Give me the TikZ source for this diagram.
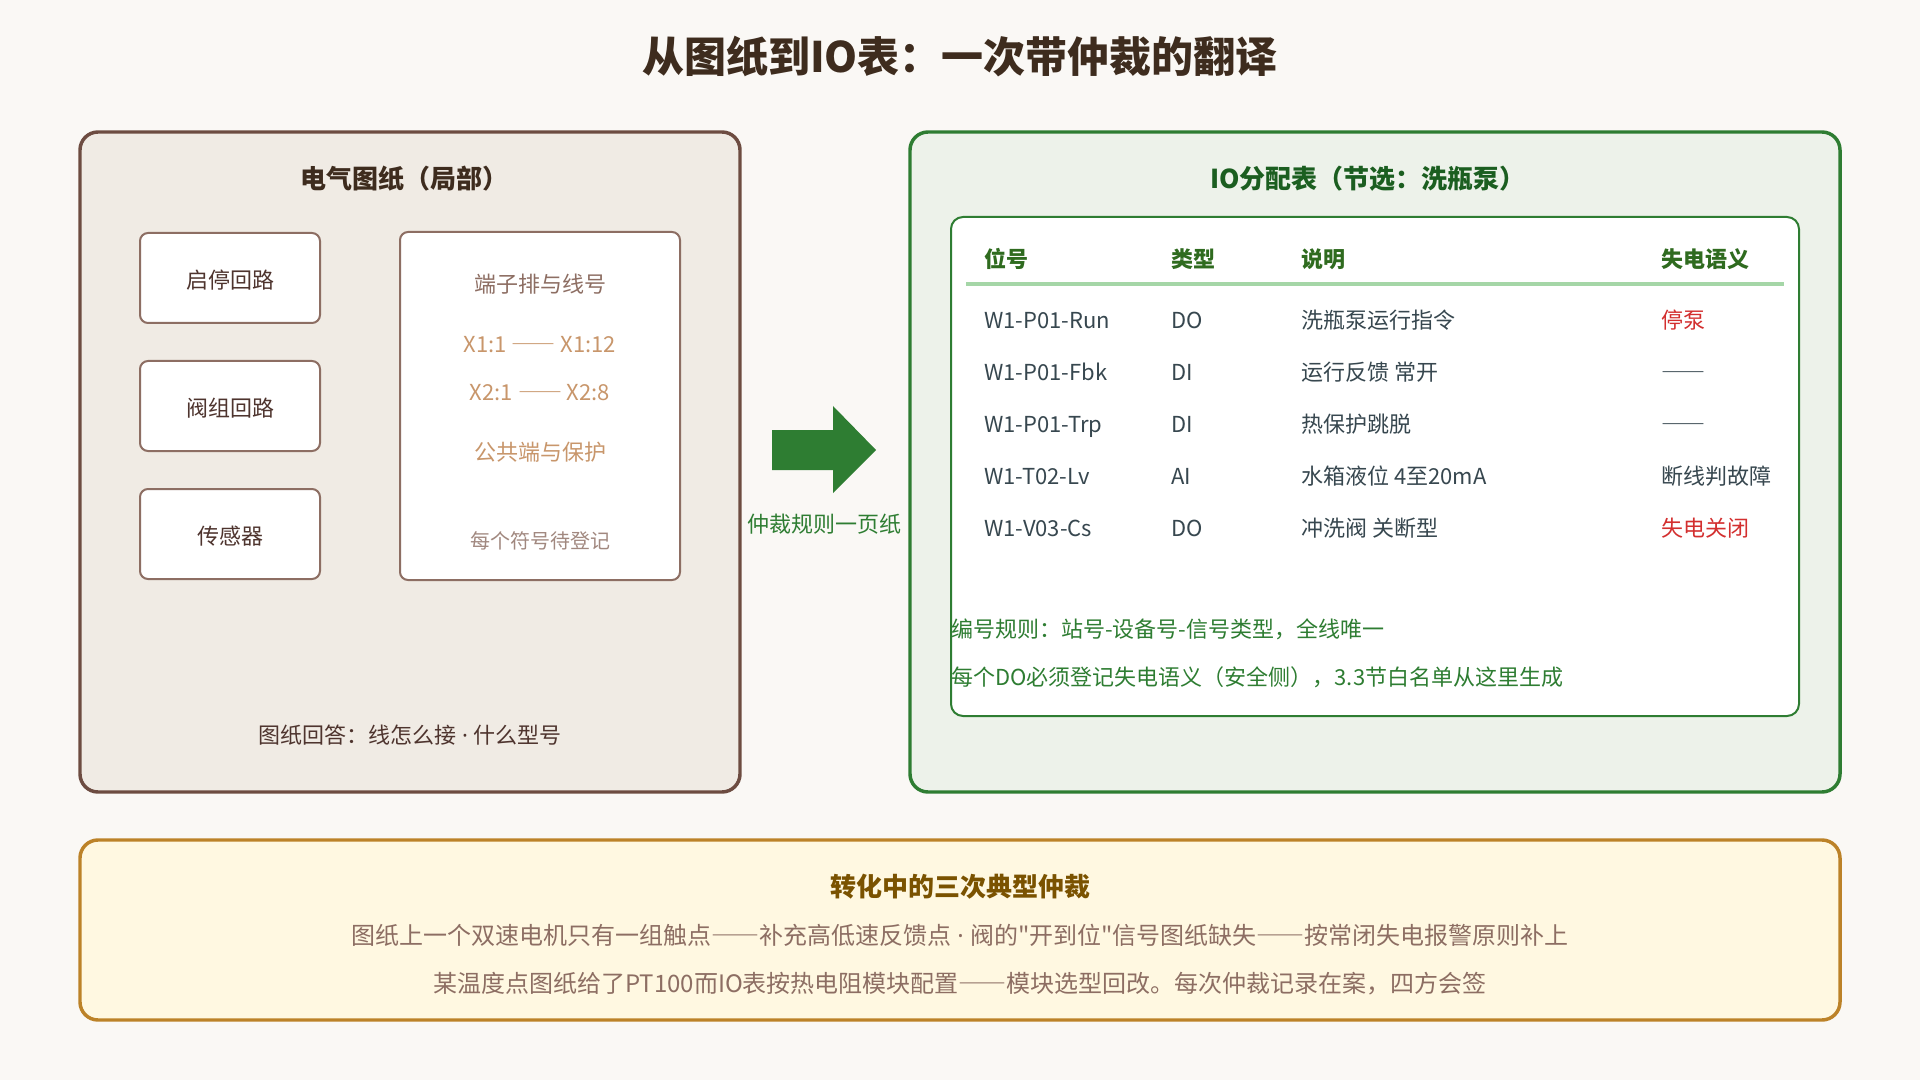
\documentclass[tikz,border=0pt]{standalone}
\usepackage{fontspec}
\setmainfont{Noto Sans CJK SC}[Ligatures=TeXOff]
\newfontfamily\dotfont{Noto Sans}
\usetikzlibrary{positioning}

\newcommand{\middot}{{\dotfont\ ·\ }}
\newcommand{\longdash}{{\addfontfeature{CharacterWidth=Full}——}}

\definecolor{pagebg}{HTML}{FAF8F5}
\definecolor{titlebrown}{HTML}{3E2C1E}
\definecolor{drawfill}{HTML}{F0EBE4}
\definecolor{drawline}{HTML}{6D4C41}
\definecolor{boxline}{HTML}{8D6E63}
\definecolor{boxtext}{HTML}{4E342E}
\definecolor{termtan}{HTML}{C8966B}
\definecolor{termgray}{HTML}{A1887F}
\definecolor{iogreen}{HTML}{2E7D32}
\definecolor{iodark}{HTML}{1B5E20}
\definecolor{iohead}{HTML}{2F6B1F}
\definecolor{iofill}{HTML}{EDF2EA}
\definecolor{ioline}{HTML}{A5D6A7}
\definecolor{rowgray}{HTML}{37474F}
\definecolor{failred}{HTML}{D32F2F}
\definecolor{notefill}{HTML}{FFF8E1}
\definecolor{noteline}{HTML}{BC8228}
\definecolor{notetitle}{HTML}{7A5200}

\tikzset{
  txt/.style={font=\fontsize{16.5}{20}\selectfont, inner sep=0pt, text height=0.94em, text depth=0.06em},
  hd/.style={font=\bfseries\fontsize{19.5}{24}\selectfont, inner sep=0pt},
  cell/.style={txt, anchor=west, text=rowgray},
  headcell/.style={txt, anchor=west, font=\bfseries\fontsize{16.5}{20}\selectfont, text=iohead},
  part/.style={draw=boxline, line width=1.5pt, fill=white, rounded corners=6pt},
}

\begin{document}
\begin{tikzpicture}[x=0.75pt, y=-0.75pt]
  \fill[pagebg] (0,0) rectangle (1920,1080);
  \useasboundingbox (0,0) rectangle (1920,1080);

  \node[font=\bfseries\fontsize{31.5}{36}\selectfont, text=titlebrown, inner sep=0pt] (title) at (960,57) {从图纸到IO表：一次带仲裁的翻译};

  % drawing side
  \draw[drawline, fill=drawfill, line width=2.6pt, rounded corners=13.5pt] (80,132) rectangle (740,792);
  \node[hd, text=titlebrown] (drawtitle) at (404,179) {电气图纸（局部）};
  \draw[part] (140,233) rectangle (320,323);
  \node[txt, text=boxtext] (startstop) at (230,283) {启停回路};
  \draw[part] (140,361) rectangle (320,451);
  \node[txt, text=boxtext] (valves) at (230,411) {阀组回路};
  \draw[part] (140,489) rectangle (320,579);
  \node[txt, text=boxtext] (sensors) at (230,539) {传感器};
  \draw[part] (400,232) rectangle (680,580);
  \node[txt, text=boxline] (terms) at (540,287) {端子排与线号};
  \node[txt, text=termtan] (xone) at (540,347) {X1:1 \longdash{} X1:12};
  \node[txt, text=termtan] (xtwo) at (540,395) {X2:1 \longdash{} X2:8};
  \node[txt, text=termtan] (common) at (540,455) {公共端与保护};
  \node[txt, text=termgray, font=\fontsize{15}{18}\selectfont] (pending) at (540,543) {每个符号待登记};
  \node[txt, text=boxtext] (drawanswer) at (410,738) {图纸回答：线怎么接\middot{}什么型号};

  % translation arrow
  \fill[iogreen] (772,430) -- (833,430) -- (833,406) -- (876,450) -- (833,493) -- (833,470) -- (772,470) -- cycle;
  \node[txt, text=iogreen] (rule) at (824,527) {仲裁规则一页纸};

  % io table side
  \draw[iogreen, fill=iofill, line width=2.6pt, rounded corners=13.5pt] (910,132) rectangle (1840,792);
  \node[hd, text=iodark] (iotitle) at (1368,179) {IO分配表（节选：洗瓶泵）};
  \draw[iogreen, fill=white, line width=1.5pt, rounded corners=9pt] (951,217) rectangle (1799,716);
  \node[headcell] (htag) at (984,262) {位号};
  \node[headcell] (htype) at (1171,262) {类型};
  \node[headcell] (hdesc) at (1301,262) {说明};
  \node[headcell] (hfail) at (1661,262) {失电语义};
  \draw[ioline, line width=2.6pt] (966,284) -- (1784,284);

  \node[cell] (tagA) at (984,323) {W1-P01-Run};
  \node[cell] (typeA) at (1171,323) {DO};
  \node[cell] (descA) at (1301,323) {洗瓶泵运行指令};
  \node[cell, text=failred] (failA) at (1661,323) {停泵};

  \node[cell] (tagB) at (984,375) {W1-P01-Fbk};
  \node[cell] (typeB) at (1171,375) {DI};
  \node[cell] (descB) at (1301,375) {运行反馈 常开};
  \node[cell] (failB) at (1661,375) {\longdash};

  \node[cell] (tagC) at (984,427) {W1-P01-Trp};
  \node[cell] (typeC) at (1171,427) {DI};
  \node[cell] (descC) at (1301,427) {热保护跳脱};
  \node[cell] (failC) at (1661,427) {\longdash};

  \node[cell] (tagD) at (984,479) {W1-T02-Lv};
  \node[cell] (typeD) at (1171,479) {AI};
  \node[cell] (descD) at (1301,479) {水箱液位 4至20mA};
  \node[cell] (failD) at (1661,479) {断线判故障};

  \node[cell] (tagE) at (984,531) {W1-V03-Cs};
  \node[cell] (typeE) at (1171,531) {DO};
  \node[cell] (descE) at (1301,531) {冲洗阀 关断型};
  \node[cell, text=failred] (failE) at (1661,531) {失电关闭};

  \node[cell, text=iogreen] (ruleA) at (951,632) {编号规则：站号-设备号-信号类型，全线唯一};
  \node[cell, text=iogreen] (ruleB) at (951,680) {每个DO必须登记失电语义（安全侧），3.3节白名单从这里生成};

  % arbitration notes
  \draw[noteline, fill=notefill, line width=2.6pt, rounded corners=13.5pt] (80,840) rectangle (1840,1020);
  \node[hd, text=notetitle] (notetitle) at (960,887) {转化中的三次典型仲裁};
  \node[txt, text=boxline, font=\fontsize{18}{22}\selectfont] (noteA) at (960,939) {图纸上一个双速电机只有一组触点\longdash{}补充高低速反馈点\middot{}阀的"开到位"信号图纸缺失\longdash{}按常闭失电报警原则补上};
  \node[txt, text=boxline, font=\fontsize{18}{22}\selectfont] (noteB) at (960,987) {某温度点图纸给了PT100而IO表按热电阻模块配置\longdash{}模块选型回改。每次仲裁记录在案，四方会签};
\end{tikzpicture}
\end{document}
